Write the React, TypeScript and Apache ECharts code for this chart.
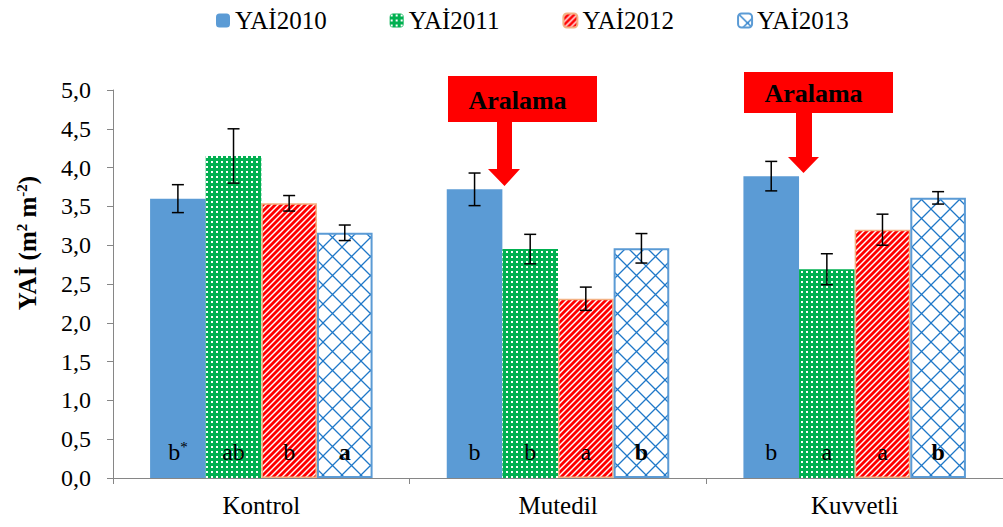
import React, { useEffect, useRef } from 'react';
import * as echarts from 'echarts';

const categories = ['Kontrol', 'Mutedil', 'Kuvvetli'];
const seriesNames = ['YAİ2010', 'YAİ2011', 'YAİ2012', 'YAİ2013'];
const yai2010 = [3.6, 3.72, 3.89];
const yai2011 = [4.15, 2.95, 2.69];
const yai2012 = [3.54, 2.31, 3.2];
const yai2013 = [3.16, 2.96, 3.61];
const err2010 = [0.18, 0.21, 0.19];
const err2011 = [0.35, 0.19, 0.2];
const err2012 = [0.1, 0.15, 0.2];
const err2013 = [0.1, 0.19, 0.08];
const letters2010 = ['b*', 'b', 'b'];
const letters2011 = ['ab', 'b', 'a'];
const letters2012 = ['b', 'a', 'a'];
const letters2013 = ['a', 'b', 'b'];
const annotationText = 'Aralama';
const yAxisTitle = ['YAİ (m', '2', ' m', '-2', ')'];

const FONT = 'Liberation Serif';

function tile(w: number, h: number, draw: (c: CanvasRenderingContext2D) => void) {
  const cv = document.createElement('canvas');
  cv.width = w;
  cv.height = h;
  const ctx = cv.getContext('2d') as CanvasRenderingContext2D;
  draw(ctx);
  return cv;
}

function makePatterns() {
  const green = tile(5, 5, (c) => {
    c.fillStyle = '#00B050';
    c.fillRect(0, 0, 5, 5);
    c.fillStyle = '#ffffff';
    c.fillRect(1, 1, 2, 2);
  });
  const red = tile(6, 6, (c) => {
    c.fillStyle = '#ffffff';
    c.fillRect(0, 0, 6, 6);
    c.strokeStyle = '#FF0000';
    c.lineWidth = 2.8;
    for (let k = -2; k <= 2; k++) {
      c.beginPath();
      c.moveTo(k * 6 - 1, 7);
      c.lineTo(k * 6 + 7, -1);
      c.stroke();
    }
  });
  const lattice = tile(19, 19, (c) => {
    c.fillStyle = '#ffffff';
    c.fillRect(0, 0, 19, 19);
    c.strokeStyle = '#1F78C8';
    c.lineWidth = 1.3;
    c.beginPath();
    c.moveTo(-1, -1);
    c.lineTo(20, 20);
    c.moveTo(20, -1);
    c.lineTo(-1, 20);
    c.stroke();
  });
  return {
    green: { image: green, repeat: 'repeat', imageWidth: 5, imageHeight: 5 },
    red: { image: red, repeat: 'repeat', imageWidth: 6, imageHeight: 6 },
    lattice: { image: lattice, repeat: 'repeat', imageWidth: 19, imageHeight: 19 },
  };
}

export default function App() {
  const ref = useRef<HTMLDivElement>(null);
  useEffect(() => {
    if (!ref.current) return;
    const chart = echarts.init(ref.current, null, { renderer: 'svg' });
    const p = makePatterns();
    const values = [yai2010, yai2011, yai2012, yai2013];
    const errs = [err2010, err2011, err2012, err2013];
    const letters = [letters2010, letters2011, letters2012, letters2013];
    const fills: any[] = ['#5B9BD5', p.green, p.red, p.lattice];
    const borders = ['#5B9BD5', '#00B050', '#F4B183', '#5B9BD5'];
    const borderWidths = [0, 0, 1.5, 2];

    const barSeries = values.map((vals, si) => ({
      name: seriesNames[si],
      type: 'bar',
      data: vals,
      barGap: '0%',
      barCategoryGap: '25%',
      itemStyle: { color: fills[si], borderColor: borders[si], borderWidth: borderWidths[si] },
      label: {
        show: true,
        position: 'insideBottom',
        distance: 13,
        formatter: (prm: any) => {
          const t = letters[si][prm.dataIndex];
          const key = si === 3 ? 'bold' : 'n';
          if (t.endsWith('*')) return `{${key}|${t.slice(0, -1)}}{s|*}`;
          return `{${key}|${t}}`;
        },
        rich: {
          n: { fontFamily: FONT, fontSize: 24, color: '#000', lineHeight: 26 },
          bold: { fontFamily: FONT, fontSize: 24, fontWeight: 'bold', color: '#000', lineHeight: 26 },
          s: { fontFamily: FONT, fontSize: 15, color: '#000', verticalAlign: 'top', lineHeight: 12 },
        },
      },
      z: 2,
    }));

    const errSeries = errs.map((ev, si) => ({
      name: 'err' + si,
      type: 'custom',
      data: ev.map((e, i) => [i, values[si][i], e]),
      encode: { x: 0, y: 1 },
      z: 5,
      silent: true,
      renderItem: (params: any, api: any) => {
        const idx = api.value(0);
        const v = api.value(1);
        const e = api.value(2);
        const band = api.size([1, 0])[0];
        const bw = (band * 0.75) / 4;
        const off = (si - 1.5) * bw;
        const top = api.coord([idx, v + e]);
        const bot = api.coord([idx, v - e]);
        const x = top[0] + off;
        const st = { stroke: '#000', lineWidth: 1.5 };
        return {
          type: 'group',
          children: [
            { type: 'line', shape: { x1: x, y1: top[1], x2: x, y2: bot[1] }, style: st },
            { type: 'line', shape: { x1: x - 6, y1: top[1], x2: x + 6, y2: top[1] }, style: st },
            { type: 'line', shape: { x1: x - 6, y1: bot[1], x2: x + 6, y2: bot[1] }, style: st },
          ],
        };
      },
    }));

    const annotation = (bx: number, by: number, bw: number, bh: number, arrow: number[][]) => [
      { type: 'rect', shape: { x: bx, y: by, width: bw, height: bh }, style: { fill: '#FF0000' }, z: 10 },
      { type: 'polygon', shape: { points: arrow }, style: { fill: '#FF0000' }, z: 10 },
      {
        type: 'text',
        x: bx + bw / 2 - 5,
        y: by + bh / 2 + 1,
        style: {
          text: annotationText,
          fontFamily: FONT,
          fontSize: 26,
          fontWeight: 'bold',
          fill: '#000',
          align: 'center',
          verticalAlign: 'middle',
        },
        z: 11,
      },
    ];

    chart.setOption({
      animation: false,
      backgroundColor: '#ffffff',
      textStyle: { fontFamily: FONT },
      grid: { left: 113, top: 90, width: 897, height: 388 },
      legend: {
        data: seriesNames,
        left: 211,
        top: 3,
        itemWidth: 14,
        itemHeight: 14,
        itemGap: 63,
        textStyle: { fontFamily: FONT, fontSize: 25, color: '#000' },
      },
      xAxis: {
        type: 'category',
        data: categories,
        axisLine: { lineStyle: { color: '#868686', width: 1 } },
        axisTick: { show: true, length: 6, lineStyle: { color: '#868686' } },
        axisLabel: { fontFamily: FONT, fontSize: 25, color: '#000', margin: 15 },
      },
      yAxis: {
        type: 'value',
        min: 0,
        max: 5,
        interval: 0.5,
        axisLine: { show: true, lineStyle: { color: '#868686', width: 1 } },
        axisTick: { show: true, length: 6, lineStyle: { color: '#868686' } },
        splitLine: { show: false },
        axisLabel: {
          fontFamily: FONT,
          fontSize: 24,
          color: '#000',
          margin: 22,
          formatter: (v: number) => v.toFixed(1).replace('.', ','),
        },
      },
      graphic: [
        {
          type: 'text',
          x: 27,
          y: 243,
          rotation: Math.PI / 2,
          style: {
            text: `{b|${yAxisTitle[0]}}{s|${yAxisTitle[1]}}{b|${yAxisTitle[2]}}{s|${yAxisTitle[3]}}{b|${yAxisTitle[4]}}`,
            rich: {
              b: { fontFamily: FONT, fontSize: 25, fontWeight: 'bold', fill: '#000', lineHeight: 26 },
              s: { fontFamily: FONT, fontSize: 15, fontWeight: 'bold', fill: '#000', verticalAlign: 'top', lineHeight: 14 },
            },
            align: 'center',
            verticalAlign: 'middle',
          },
        },
        ...annotation(448, 76, 149, 46, [
          [497, 122], [512, 122], [512, 169], [520, 169], [504.5, 186], [488, 169], [497, 169],
        ]),
        ...annotation(744, 72, 149, 41, [
          [796, 113], [812, 113], [812, 157], [819, 157], [803.5, 173], [788, 157], [796, 157],
        ]),
      ],
      series: [...barSeries, ...errSeries],
    } as any);
    return () => chart.dispose();
  }, []);
  return <div ref={ref} style={{ width: 1003, height: 527, position: 'absolute', left: 0, top: 0 }} />;
}
